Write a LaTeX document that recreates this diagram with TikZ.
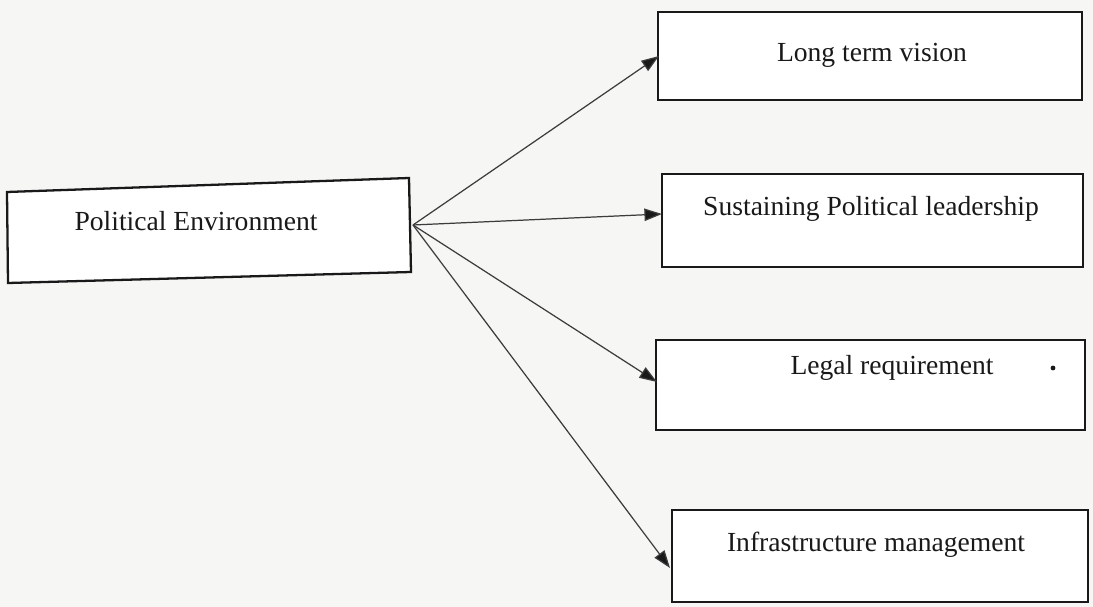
\documentclass[tikz,border=0pt]{standalone}
\usepackage{fontspec}
\setmainfont{Liberation Serif}
\usetikzlibrary{arrows.meta,calc}
\definecolor{paper}{RGB}{246,246,245}
\definecolor{ink}{RGB}{25,25,25}
\definecolor{wire}{RGB}{60,60,60}
\tikzset{
  box/.style={draw=ink, line width=1.3pt, fill=white},
  label/.style={font=\fontsize{15.7}{18}\selectfont, text=ink, inner sep=0pt},
  link/.style={draw=wire, line width=0.7pt, -{Triangle[length=10pt,width=7pt,fill=ink]}},
}
\begin{document}
\begin{tikzpicture}[x=0.02cm, y=-0.02cm]
  \fill[paper] (0,0) rectangle (1093,607);
  \useasboundingbox (0,0) rectangle (1093,607);

  % source box, slightly tilted
  \coordinate (pTL) at (7,192);
  \coordinate (pTR) at (409,178);
  \coordinate (pBR) at (411,272);
  \coordinate (pBL) at (8,283);
  \draw[box] (pTL) -- (pTR) -- (pBR) -- (pBL) -- cycle;
  \node[label] (pe) at (196,221) {Political Environment};
  \coordinate (hub) at (413,225);

  % target boxes
  \draw[box] (658,12) rectangle (1082,100);
  \coordinate (ltv) at (659,56);
  \node[label] (ltvT) at (872,55) {Long term vision};

  \draw[box] (662,174) rectangle (1083,267);
  \coordinate (spl) at (662,214);
  \node[label] (splT) at (871,209) {Sustaining Political leadership};

  \draw[box] (656,340) rectangle (1085,430);
  \coordinate (lr) at (657,382);
  \node[label] (lrT) at (892,368) {Legal requirement};
  \fill[ink] (1053,368) circle (2.4);

  \draw[box] (672,510) rectangle (1088,602);
  \coordinate (im) at (670,568);
  \node[label] (imT) at (876,545) {Infrastructure management};

  % connectors
  \draw[link] (hub) -- (ltv);
  \draw[link] (hub) -- (spl);
  \draw[link] (hub) -- (lr);
  \draw[link] (hub) -- (im);
\end{tikzpicture}
\end{document}
